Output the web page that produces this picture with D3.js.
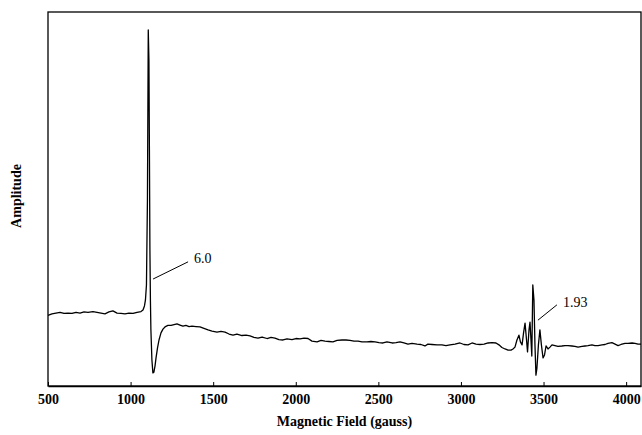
<!DOCTYPE html>
<html>
<head>
<meta charset="utf-8">
<script src="https://cdn.jsdelivr.net/npm/d3@7"></script>
<style>
body{margin:0;background:#fff;}
svg text{font-family:"Liberation Serif","Times New Roman",serif;fill:#000;}
</style>
</head>
<body>
<svg id="epr" width="642" height="435"></svg>
<script>
// field values (gauss)
var fieldG = [500,524,548,573,597,621,645,670,694,718,742,772,797,821,845,869,893,918,942,966,990,1015,1039,1063,1075,1084,1090,1096,1102,1107,1111,1114,1117,1120,1123,1129,1135,1141,1148,1154,1163,1172,1184,1196,1211,1226,1245,1263,1281,1299,1317,1335,1354,1372,1396,1420,1444,1469,1493,1523,1547,1572,1596,1620,1644,1674,1699,1723,1747,1771,1796,1826,1850,1874,1898,1923,1947,1977,2001,2026,2050,2074,2098,2129,2153,2177,2201,2225,2250,2280,2304,2328,2353,2377,2401,2431,2455,2480,2504,2528,2552,2583,2607,2631,2655,2679,2704,2734,2758,2782,2800,2825,2855,2885,2909,2934,2964,2994,3018,3043,3067,3091,3115,3140,3164,3188,3212,3230,3248,3267,3285,3303,3315,3327,3339,3351,3360,3370,3379,3388,3397,3403,3412,3418,3424,3429,3435,3442,3448,3454,3460,3469,3478,3487,3497,3506,3515,3527,3539,3551,3569,3587,3611,3630,3648,3672,3690,3709,3733,3751,3769,3793,3811,3830,3854,3872,3890,3914,3933,3951,3969,3993,4011,4036,4054,4072,4090];
// amplitude (arbitrary units)
var amp = [18.9,19.3,19.5,19.7,19.4,19.5,19.4,19.7,19.5,19.8,19.7,19.9,19.7,19.5,19.3,19.8,20.1,19.5,19.4,19.3,19.5,19.4,19.7,19.9,20.3,21.4,23,27,49.7,95.2,87,63,36.4,23,15,7,3.5,3.7,5.4,7.5,10.2,12.3,14.2,15.2,15.9,16.2,16.2,16.4,16.6,16.3,16.0,16.2,15.9,16.0,15.9,15.8,15.4,15.0,14.7,14.4,14.6,14.4,13.9,13.6,13.9,13.5,13.6,13.4,13.0,12.8,13.1,12.7,13.0,12.8,12.4,12.3,12.6,12.4,12.7,12.6,12.8,12.7,12.0,11.8,12.2,12.0,11.9,11.8,12.2,12.3,12.3,12.2,12.0,12.0,11.8,11.8,11.9,11.8,11.6,11.5,11.8,11.5,11.6,11.8,11.5,11.2,11.4,11.2,11.1,10.7,11.2,11.1,11.0,11.0,10.8,11.0,11.2,11.5,11.1,11.0,11.5,11.2,11.1,11.2,11.5,11.6,11.5,11.0,10.3,9.9,9.6,9.6,9.9,10.4,12.3,13.6,11.8,11.0,14.2,16.8,12.3,9.1,15.0,17.1,12.3,8.0,27.0,23,11,2.9,4.8,11,15,11,7.5,8.3,10.7,9.9,10.4,11.0,10.8,10.6,10.7,10.8,10.8,10.7,10.6,10.4,10.6,10.7,10.8,11.0,10.8,10.8,11.0,11.1,11.4,11.6,11.2,10.8,11.1,11.4,11.4,11.5,11.4,11.2,11.2];

var xTicks = [500,1000,1500,2000,2500,3000,3500,4000];

// g-value labels: leader from [g0,a0] to [g1,a1], text at [gt,at]
var gLabels = ["6.0","1.93"];
var gLeader = [[1136,28.6,1348,33.2],[3466,17.6,3581,21.7]];
var gTextAt = [[1384,32.9],[3618,21.1]];

var drawSpectrum = function(svgName){
	var svg = d3.select('#'+svgName);
	var left = 48, top = 12, right = 641, bottom = 386;

	var xScale = d3.scaleLinear().domain([500,4090]).range([left,right]);
	var yScale = d3.scaleLinear().domain([0,100]).range([bottom,top]);

	var data = fieldG.map(function(g,i){ return {g:g, a:amp[i]}; });

	// frame
	svg.append("rect")
		.attr("x",left).attr("y",top)
		.attr("width",right-left).attr("height",bottom-top)
		.attr("fill","none").attr("stroke","#000").attr("stroke-width",1.3);

	var xAxis = svg.append("g")
		.attr("transform","translate(0,"+bottom+")")
		.call(d3.axisBottom(xScale).tickValues(xTicks).tickFormat(d3.format("d"))
			.tickSizeInner(-4).tickSizeOuter(0).tickPadding(8));
	xAxis.select(".domain").attr("stroke-width",1.3);
	xAxis.selectAll("text")
		.attr("font-size","14px").attr("font-weight","bold");

	var line = d3.line()
		.x(function(d){return xScale(d.g);})
		.y(function(d){return yScale(d.a);});

	svg.append("path")
		.datum(data)
		.attr("d",line)
		.attr("fill","none")
		.attr("stroke","#000")
		.attr("stroke-width",1.3)
		.attr("stroke-linejoin","round");

	gLabels.forEach(function(t,i){
		var l = gLeader[i];
		svg.append("line")
			.attr("x1",xScale(l[0])).attr("y1",yScale(l[1]))
			.attr("x2",xScale(l[2])).attr("y2",yScale(l[3]))
			.attr("stroke","#000").attr("stroke-width",1);
		svg.append("text")
			.attr("x",xScale(gTextAt[i][0])).attr("y",yScale(gTextAt[i][1]))
			.attr("font-size","14px")
			.text(t);
	});

	svg.append("text")
		.attr("x",(left+right)/2).attr("y",426)
		.attr("text-anchor","middle")
		.attr("font-size","14px").attr("font-weight","bold")
		.text("Magnetic Field (gauss)");

	svg.append("text")
		.attr("transform","translate(21,196) rotate(-90)")
		.attr("text-anchor","middle")
		.attr("font-size","14px").attr("font-weight","bold")
		.text("Amplitude");
};

drawSpectrum("epr");
</script>
</body>
</html>
